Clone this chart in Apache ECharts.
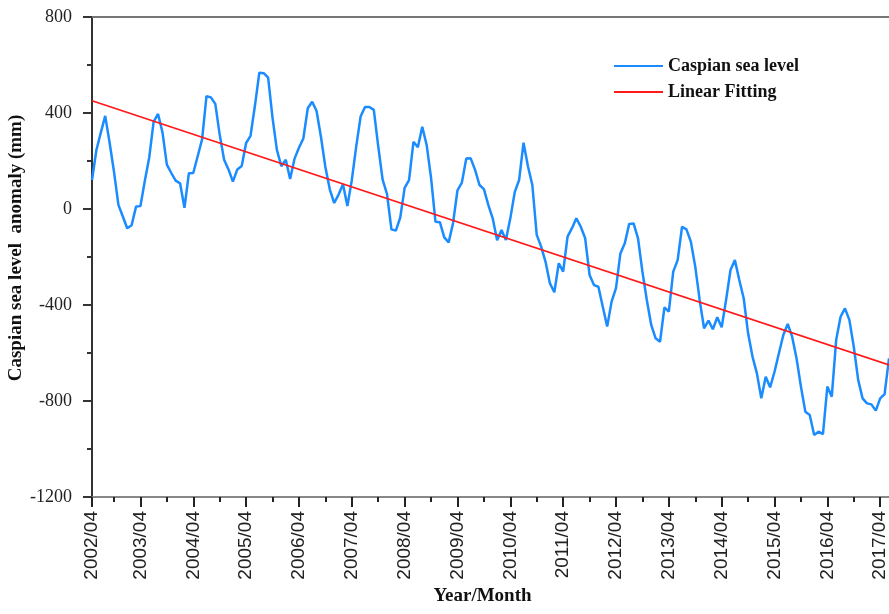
<!DOCTYPE html>
<html>
<head>
<meta charset="utf-8">
<script src="https://cdn.jsdelivr.net/npm/echarts@6/dist/echarts.min.js"></script>
<style>html,body{margin:0;padding:0;background:#fff;}#c{width:889px;height:614px;}</style>
</head>
<body>
<div id="c"></div>
<script>
// Sample labels (GRACE monthly solutions; 2002/06 missing)
const months = [];
(function(){ let y = 2002, m = 4; while (months.length < 182) { if (!(y === 2002 && m === 6)) months.push(y + '/' + String(m).padStart(2, '0')); m++; if (m > 12) { m = 1; y++; } } })();

// Caspian sea level anomaly (mm), one value per sample
const seaLevel = [
  121, 246, 318, 388, 276, 155, 17, -31, -80, -68,
  10, 12, 118, 215, 364, 396, 320, 185, 150, 118,
  107, 5, 149, 150, 220, 290, 470, 465, 438, 310,
  205, 165, 114, 165, 179, 275, 305, 430, 568, 566,
  547, 380, 245, 178, 205, 125, 210, 255, 294, 420,
  447, 408, 300, 175, 82, 25, 60, 103, 12, 120,
  260, 385, 425, 425, 413, 262, 122, 62, -85, -90,
  -36, 88, 120, 280, 257, 343, 267, 130, -53, -55,
  -118, -139, -58, 78, 110, 210, 211, 163, 100, 83,
  17, -39, -130, -88, -129, -39, 70, 121, 276, 178,
  100, -108, -157, -220, -310, -347, -226, -261, -115, -80,
  -39, -74, -122, -275, -317, -324, -407, -490, -386, -330,
  -185, -143, -62, -60, -122, -261, -379, -483, -539, -553,
  -410, -428, -261, -213, -74, -85, -136, -240, -379, -497,
  -465, -501, -451, -493, -379, -254, -213, -296, -372, -518,
  -615, -685, -789, -699, -743, -678, -601, -525, -479, -532,
  -622, -740, -845, -858, -942, -928, -938, -740, -782, -546,
  -449, -414, -462, -574, -712, -789, -810, -814, -840, -789,
  -771, -622
];

// Linear fitting line end points [sample index, value]
const fitStart = [0, 451];
const fitEnd = [181, -650];

const yTicks = { min: -1200, max: 800, interval: 400 };

const serif = 'Liberation Serif';
const isApril = (i, v) => String(v).endsWith('/04');
const isOctober = (i, v) => String(v).endsWith('/10');

const chart = echarts.init(document.getElementById('c'), null, { renderer: 'canvas' });
chart.setOption({
  backgroundColor: '#fff',
  animation: false,
  grid: { left: 92, top: 17, width: 797, height: 480, containLabel: false, outerBoundsMode: 'none' },
  legend: {
    orient: 'vertical', left: 608, top: 52, itemWidth: 49, itemHeight: 16, itemGap: 8,
    itemStyle: { opacity: 0 },
    textStyle: { fontFamily: serif, fontWeight: 'bold', fontSize: 18, color: '#111' },
    data: ['Caspian sea level', 'Linear Fitting']
  },
  xAxis: [
    {
      type: 'category', data: months, boundaryGap: false, position: 'bottom',
      name: 'Year/Month', nameLocation: 'middle', nameGap: 90, nameMoveOverlap: false,
      nameTextStyle: { fontFamily: serif, fontWeight: 'bold', fontSize: 19, color: '#111', padding: [0, 16, 0, 0] },
      axisLine: { onZero: false, lineStyle: { color: '#888', width: 2 } },
      axisTick: { interval: isApril, length: 10, lineStyle: { color: '#222', width: 2 } },
      axisLabel: { interval: isApril, rotate: 90, margin: 14, fontFamily: 'Liberation Sans', fontSize: 19, color: '#222' },
      splitLine: { show: false }
    },
    {
      type: 'category', data: months, boundaryGap: false, position: 'bottom',
      axisLine: { show: false, onZero: false },
      axisTick: { interval: isOctober, length: 5, lineStyle: { color: '#222', width: 2 } },
      axisLabel: { show: false }, splitLine: { show: false }
    },
    {
      type: 'category', data: months, boundaryGap: false, position: 'top',
      axisLine: { onZero: false, lineStyle: { color: '#777', width: 2 } },
      axisTick: { show: false }, axisLabel: { show: false }, splitLine: { show: false }
    }
  ],
  yAxis: {
    type: 'value', min: yTicks.min, max: yTicks.max, interval: yTicks.interval,
    name: 'Caspian sea level  anomaly (mm)', nameLocation: 'middle', nameGap: 66, nameMoveOverlap: false,
    nameTextStyle: { fontFamily: serif, fontWeight: 'bold', fontSize: 19, color: '#111', padding: [0, 0, 0, 18] },
    axisLine: { show: true, onZero: false, lineStyle: { color: '#333', width: 2 } },
    axisTick: { show: true, length: 9, lineStyle: { color: '#333', width: 2 } },
    minorTick: { show: true, splitNumber: 2, length: 5, lineStyle: { color: '#333', width: 2 } },
    axisLabel: { margin: 20, fontFamily: serif, fontSize: 18, color: '#222', formatter: v => String(v) },
    splitLine: { show: false }, minorSplitLine: { show: false }
  },
  series: [
    {
      name: 'Caspian sea level', type: 'line', data: seaLevel, xAxisIndex: 0,
      symbol: 'none', lineStyle: { color: '#1a8cff', width: 2.5 }, itemStyle: { color: '#1a8cff' }, z: 2
    },
    {
      name: 'Linear Fitting', type: 'line', data: [fitStart, fitEnd], xAxisIndex: 0,
      symbol: 'none', lineStyle: { color: '#ff1a1a', width: 1.8 }, itemStyle: { color: '#ff1a1a' }, z: 3
    }
  ]
});
</script>
</body>
</html>
